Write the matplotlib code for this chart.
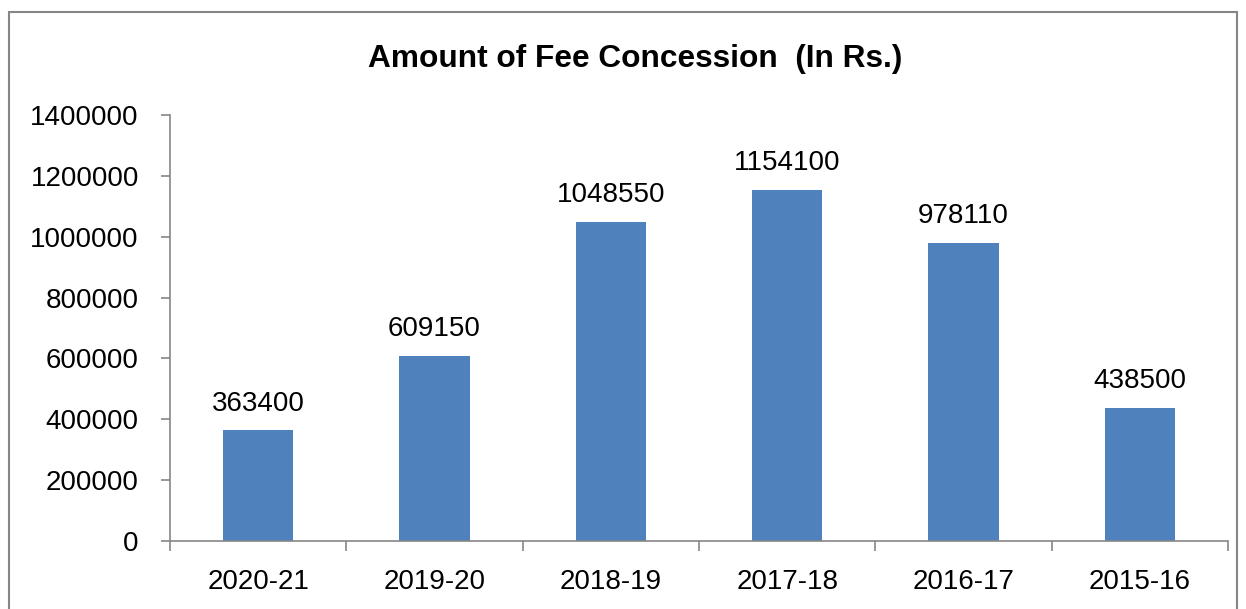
import matplotlib
matplotlib.use("Agg")
import matplotlib.pyplot as plt
from matplotlib.patches import Rectangle
import numpy as np

categories = ["2020-21", "2019-20", "2018-19", "2017-18", "2016-17", "2015-16"]
values = [363400, 609150, 1048550, 1154100, 978110, 438500]
yticks = [0, 200000, 400000, 600000, 800000, 1000000, 1200000, 1400000]
title = "Amount of Fee Concession  (In Rs.)"

plt.rcParams['font.family'] = ['Liberation Sans', 'DejaVu Sans']

fig = plt.figure(figsize=(12.46, 6.09), dpi=100)
W, H = 1246, 609
ax = fig.add_axes([170 / W, (H - 541) / H, (1228 - 170) / W, (541 - 115) / H])

x = np.arange(len(categories))
bars = ax.bar(x, values, width=0.4, color="#4F81BD", zorder=2)
for xi, v in zip(x, values):
    ax.annotate(str(v), (xi, v), xytext=(0, 10), textcoords="offset points",
                ha="center", va="bottom", fontsize=20)

ax.set_xlim(-0.5, len(categories) - 0.5)
ax.set_ylim(0, 1400000)
ax.set_yticks(yticks)
ax.set_yticklabels([str(t) for t in yticks])
ax.set_xticks(x)
ax.set_xticklabels(categories)
ax.set_xticks(np.arange(len(categories) + 1) - 0.5, minor=True)

grey = "#868686"
for s in ["top", "right"]:
    ax.spines[s].set_visible(False)
for s in ["left", "bottom"]:
    ax.spines[s].set_color(grey)
    ax.spines[s].set_linewidth(1.2)

ax.tick_params(axis="y", direction="out", length=6.5, width=1.2, color=grey,
               labelsize=20, pad=16)
ax.tick_params(axis="x", which="major", length=0, labelsize=20, pad=20)
ax.tick_params(axis="x", which="minor", direction="out", length=7, width=1.2, color=grey)

fig.text(635 / W, 1 - 59 / H, title, ha="center", va="center",
         fontsize=22.8, fontweight="bold")

fig.patches.append(Rectangle((9 / W, -0.05), (1237 - 9) / W, 1.05 - 12 / H,
                             transform=fig.transFigure, fill=False,
                             edgecolor=grey, linewidth=1.5))

fig.savefig("out.png", dpi=100)
